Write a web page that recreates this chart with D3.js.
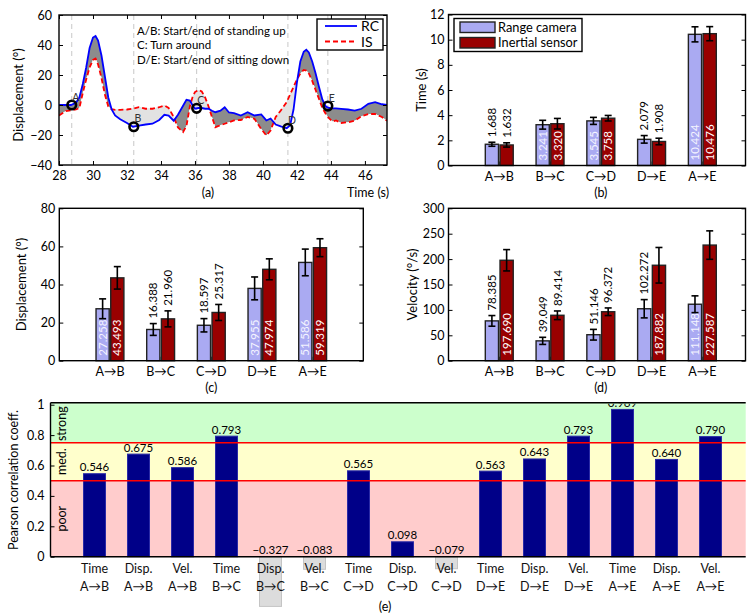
<!DOCTYPE html>
<html>
<head>
<meta charset="utf-8">
<script src="https://cdn.jsdelivr.net/npm/d3@7"></script>
<style>
  body { margin: 0; background: #fff; }
  svg { display: block; font-family: Lato, "Open Sans", sans-serif; }
</style>
</head>
<body>
<svg id="fig" width="747" height="615"></svg>
<script>
// ---------- (a) knee angle traces: range camera (RC) vs inertial sensor (IS) ----------
const traceTime = [28.0, 28.4, 28.7, 29.0, 29.2, 29.4, 29.6, 29.8, 30.0, 30.15, 30.3, 30.5, 30.7, 30.9,
  31.1, 31.3, 31.6, 32.0, 32.35, 32.7, 33.1, 33.5, 33.9, 34.2, 34.45, 34.75, 35.0, 35.3, 35.5, 35.7,
  35.85, 36.0, 36.2, 36.4, 36.6, 36.8, 37.0, 37.2, 37.5, 37.75, 38.0, 38.3, 38.7, 39.1, 39.5, 39.9,
  40.2, 40.45, 40.75, 41.05, 41.4, 41.6, 41.8, 42.0, 42.2, 42.4, 42.55, 42.7, 42.9, 43.1, 43.3, 43.5,
  43.7, 43.9, 44.1, 44.3, 44.6, 45.0, 45.4, 45.8, 46.2, 46.6, 47.0, 47.3];
const traceRC = [0, 0, 0, 1.5, 5, 14, 25, 38, 45, 46, 43, 33, 19, 5,
  -3, -7, -9.5, -12, -14.5, -13.7, -13, -12.5, -10, -6.5, -7, -10.5, -6.5, -0.5, 3.5, 3,
  0, -2.5, -2, -2, -2.5, -2.5, -3.8, -4.8, -3.8, -1.5, -5, -5.4, -7, -4.8, -7, -6.3,
  -10.3, -9, -13, -14.3, -15.5, -13.5, -3, 15, 29, 35.5, 36.8, 35, 29, 21, 12, 3.5,
  -1, -2, -2.2, -2.3, -2.6, -3, -3.7, -2.5, 0.8, 1.9, 0.5, 0];
const traceIS = [-7, -4, -3.5, -3, -2, 8, 17, 25, 30, 31, 27, 18, 7, -1,
  -2.8, -3.2, -3.2, -3, -2.5, -1.5, -2.5, -2.5, -1.5, -0.3, -2, -8, -15, -18, -14, -1,
  5, 8.6, 10, 9, 5, -1, -8, -14.8, -13.5, -12.5, -11.5, -10.3, -10, -8, -9.2, -16,
  -20.3, -17, -8, -3.7, 2, 7, 12, 17, 21, 23.4, 23, 21, 16, 10, 4, -2,
  -6, -9, -11, -10.3, -12, -11.5, -10.5, -7.5, -6, -6, -8, -10.5];
const eventNames = ["A", "B", "C", "D", "E"];
const eventTimes = [28.75, 32.4, 36.1, 41.47, 43.82];
const eventValues = [0, -14.5, -2.2, -15.5, -0.7];
const eventNotes = ["A/B: Start/end of standing up", "C: Turn around", "D/E: Start/end of sitting down"];
const traceTicksX = [28, 30, 32, 34, 36, 38, 40, 42, 44, 46];
const traceTicksY = [-40, -20, 0, 20, 40, 60];

// ---------- (b)-(d) segment statistics ----------
const segments = ["A→B", "B→C", "C→D", "D→E", "A→E"];
const timeRC = [1.688, 3.241, 3.545, 2.079, 10.424];
const timeRCErr = [0.16, 0.35, 0.28, 0.3, 0.6];
const timeIS = [1.632, 3.320, 3.758, 1.908, 10.476];
const timeISErr = [0.17, 0.42, 0.22, 0.26, 0.56];
const dispRC = [27.258, 16.388, 18.597, 37.955, 51.586];
const dispRCErr = [5.2, 3.1, 3.5, 6, 7];
const dispIS = [43.493, 21.960, 25.317, 47.974, 59.319];
const dispISErr = [5.9, 4.2, 4.2, 5.5, 4.7];
const velRC = [78.385, 39.049, 51.146, 102.272, 111.148];
const velRCErr = [10.5, 7, 10.5, 18, 16.5];
const velIS = [197.690, 89.414, 96.372, 187.882, 227.587];
const velISErr = [21, 8.5, 7.5, 35, 28];
const seriesNames = ["Range camera", "Inertial sensor"];

// ---------- (e) Pearson correlation per metric and segment ----------
const corrMetric = ["Time", "Disp.", "Vel.", "Time", "Disp.", "Vel.", "Time", "Disp.", "Vel.",
  "Time", "Disp.", "Vel.", "Time", "Disp.", "Vel."];
const corrSegment = ["A→B", "A→B", "A→B", "B→C", "B→C", "B→C", "C→D", "C→D", "C→D",
  "D→E", "D→E", "D→E", "A→E", "A→E", "A→E"];
const corrValues = [0.546, 0.675, 0.586, 0.793, -0.327, -0.083, 0.565, 0.098, -0.079,
  0.563, 0.643, 0.793, 0.969, 0.640, 0.790];
const bandEdges = [0, 0.5, 0.75, 1];
const bandNames = ["poor", "med.", "strong"];
const corrTicks = [0, 0.2, 0.4, 0.6, 0.8, 1];

const svg = d3.select("#fig");
const defs = svg.append("defs");
const fmt3 = v => (v < 0 ? "−" : "") + Math.abs(v).toFixed(3);

function styleAxis(sel, size) {
  sel.select(".domain").remove();
  sel.selectAll("line").attr("stroke", "#000").attr("stroke-width", 1);
  sel.selectAll("text").attr("font-size", size).attr("fill", "#000")
    .attr("font-family", "Lato, 'Open Sans', sans-serif");
}
function frame(g, l, r, t, b) {
  g.append("rect").attr("x", l).attr("y", t).attr("width", r - l).attr("height", b - t)
    .attr("fill", "none").attr("stroke", "#000").attr("stroke-width", 1.4);
}
function text(g, x, y, s, size, opts = {}) {
  const el = g.append("text").attr("x", x).attr("y", y).text(s)
    .attr("font-size", size).attr("fill", opts.fill || "#000")
    .attr("text-anchor", opts.anchor || "start");
  if (opts.rotate) el.attr("transform", `rotate(-90,${x},${y})`);
  return el;
}

// =============== panel (a) ===============
(function () {
  const P = { l: 59, r: 387, t: 15, b: 165 };
  const g = svg.append("g");
  const x = d3.scaleLinear().domain([28, 47.3]).range([P.l, P.r]);
  const y = d3.scaleLinear().domain([-40, 60]).range([P.b, P.t]);
  const pts = traceTime.map((t, i) => ({ t, rc: traceRC[i], is: traceIS[i] }));

  defs.append("clipPath").attr("id", "clipA").append("rect")
    .attr("x", P.l).attr("y", P.t).attr("width", P.r - P.l).attr("height", P.b - P.t);
  const isArea = d3.area().x(d => x(d.t)).y1(d => y(d.is));
  defs.append("clipPath").attr("id", "aboveIS").append("path").attr("d", isArea.y0(P.t)(pts));
  defs.append("clipPath").attr("id", "belowIS").append("path").attr("d", isArea.y0(P.b)(pts));

  const body = g.append("g").attr("clip-path", "url(#clipA)");
  // event guide lines
  eventTimes.forEach(t => body.append("line").attr("x1", x(t)).attr("x2", x(t))
    .attr("y1", P.t).attr("y2", P.b).attr("stroke", "#c8c8c8").attr("stroke-width", 1)
    .attr("stroke-dasharray", "5,4"));
  const between = d3.area().x(d => x(d.t)).y0(d => y(d.rc)).y1(d => y(d.is));
  body.append("g").attr("clip-path", "url(#aboveIS)").append("path")
    .attr("d", between(pts)).attr("fill", "#8c8c8c");
  body.append("g").attr("clip-path", "url(#belowIS)").append("path")
    .attr("d", between(pts)).attr("fill", "#e2e2e2");
  const lineRC = d3.line().x(d => x(d.t)).y(d => y(d.rc));
  const lineIS = d3.line().x(d => x(d.t)).y(d => y(d.is));
  body.append("path").attr("d", lineIS(pts)).attr("fill", "none").attr("stroke", "#ff0000")
    .attr("stroke-width", 1.8).attr("stroke-dasharray", "5,3");
  body.append("path").attr("d", lineRC(pts)).attr("fill", "none").attr("stroke", "#0000ff")
    .attr("stroke-width", 1.8);
  // event markers
  eventTimes.forEach((t, i) => {
    body.append("circle").attr("cx", x(t)).attr("cy", y(eventValues[i])).attr("r", 4.3)
      .attr("fill", "none").attr("stroke", "#000").attr("stroke-width", 2.6);
    text(body, x(t) + 4, y(eventValues[i]) - 4.5, eventNames[i], 10.5, { fill: "#333", anchor: "middle" });
  });
  eventNotes.forEach((s, i) => text(g, 137, 35 + i * 14.3, s, 11.5));

  // axes with inward ticks
  const axL = g.append("g").attr("transform", `translate(${P.l},0)`)
    .call(d3.axisLeft(y).tickValues(traceTicksY).tickSizeInner(-4).tickSizeOuter(0).tickPadding(7));
  styleAxis(axL, 12.5);
  const axR = g.append("g").attr("transform", `translate(${P.r},0)`)
    .call(d3.axisRight(y).tickValues(traceTicksY).tickSizeInner(-4).tickSizeOuter(0).tickFormat(""));
  styleAxis(axR, 12);
  const axB = g.append("g").attr("transform", `translate(0,${P.b})`)
    .call(d3.axisBottom(x).tickValues(traceTicksX).tickSizeInner(-4).tickSizeOuter(0).tickPadding(6));
  styleAxis(axB, 12.5);
  const axT = g.append("g").attr("transform", `translate(0,${P.t})`)
    .call(d3.axisTop(x).tickValues(traceTicksX).tickSizeInner(-4).tickSizeOuter(0).tickFormat(""));
  styleAxis(axT, 12);
  frame(g, P.l, P.r, P.t, P.b);

  // legend
  g.append("rect").attr("x", 317).attr("y", 19).attr("width", 66).attr("height", 31)
    .attr("fill", "#fff").attr("stroke", "#000").attr("stroke-width", 1.4);
  g.append("line").attr("x1", 325).attr("x2", 357).attr("y1", 26).attr("y2", 26)
    .attr("stroke", "#0000ff").attr("stroke-width", 1.8);
  g.append("line").attr("x1", 325).attr("x2", 357).attr("y1", 41.5).attr("y2", 41.5)
    .attr("stroke", "#ff0000").attr("stroke-width", 1.8).attr("stroke-dasharray", "5,3");
  text(g, 361, 31, "RC", 14);
  text(g, 361, 46.5, "IS", 14);

  text(g, 23, 95, "Displacement (°)", 13, { anchor: "middle", rotate: true });
  text(g, 208, 197, "(a)", 12.5, { anchor: "middle" });
  text(g, 347, 197, "Time (s)", 12.5);
})();

// =============== panels (b)-(d) ===============
function barPanel(o) {
  const g = svg.append("g");
  const x = d3.scaleLinear().domain(o.xDomain).range([o.l, o.r]);
  const y = d3.scaleLinear().domain([0, o.yMax]).range([o.b, o.t]);
  const bw = x(0.26) - x(0);
  const cats = segments.map((s, i) => i + 1);

  const axB = g.append("g").attr("transform", `translate(0,${o.b})`)
    .call(d3.axisBottom(x).tickValues(cats).tickSizeInner(-4).tickSizeOuter(0).tickFormat(""));
  styleAxis(axB, 12);

  const series = [
    { v: o.rc, e: o.rcErr, inside: o.rcIn, off: -0.145, fill: "#aaaaf2", inText: "#f4f4ff" },
    { v: o.is, e: o.isErr, inside: o.isIn, off: 0.145, fill: "#990000", inText: "#ffffff" }
  ];
  series.forEach(s => {
    s.v.forEach((v, i) => {
      const cx = x(cats[i] + s.off);
      g.append("rect").attr("x", cx - bw / 2).attr("y", y(v)).attr("width", bw)
        .attr("height", y(0) - y(v)).attr("fill", s.fill).attr("stroke", "#222").attr("stroke-width", 1.4);
    });
  });
  series.forEach(s => {
    s.v.forEach((v, i) => {
      const cx = x(cats[i] + s.off);
      const e = s.e[i];
      g.append("line").attr("x1", cx).attr("x2", cx).attr("y1", y(v - e)).attr("y2", y(v + e))
        .attr("stroke", "#000").attr("stroke-width", 1.6);
      [v - e, v + e].forEach(w => g.append("line").attr("x1", cx - 3.5).attr("x2", cx + 3.5)
        .attr("y1", y(w)).attr("y2", y(w)).attr("stroke", "#000").attr("stroke-width", 1.6));
      const inside = s.inside[i];
      const ly = inside ? y(0) - 5 : y(v + e) - 5;
      g.append("text").attr("transform", `translate(${cx},${ly}) rotate(-90)`)
        .attr("dy", "0.36em").attr("font-size", 11.5)
        .attr("fill", inside ? s.inText : "#000").text(v.toFixed(3));
    });
  });

  const axL = g.append("g").attr("transform", `translate(${o.l},0)`)
    .call(d3.axisLeft(y).tickValues(o.yTicks).tickSizeInner(-4).tickSizeOuter(0).tickPadding(4));
  styleAxis(axL, 12.5);
  const axR = g.append("g").attr("transform", `translate(${o.r},0)`)
    .call(d3.axisRight(y).tickValues(o.yTicks).tickSizeInner(-4).tickSizeOuter(0).tickFormat(""));
  styleAxis(axR, 12);
  frame(g, o.l, o.r, o.t, o.b);

  segments.forEach((s, i) => text(g, x(cats[i]), o.b + 15.5, s, 12.5, { anchor: "middle" }));
  text(g, o.yLabelX, (o.t + o.b) / 2, o.yLabel, 13, { anchor: "middle", rotate: true });
  text(g, x(3), o.b + 31, o.caption, 12.5, { anchor: "middle" });
  return g;
}

const gb = barPanel({ l: 448.5, r: 745.5, t: 14.5, b: 165.5, xDomain: [0, 5.85], yMax: 12,
  yTicks: [0, 2, 4, 6, 8, 10, 12], rc: timeRC, rcErr: timeRCErr, is: timeIS, isErr: timeISErr,
  rcIn: [0, 1, 1, 0, 1], isIn: [0, 1, 1, 0, 1],
  yLabel: "Time (s)", yLabelX: 426, caption: "(b)" });
// legend for the bar panels
gb.append("rect").attr("x", 454).attr("y", 18.5).attr("width", 128).attr("height", 33)
  .attr("fill", "#fff").attr("stroke", "#000").attr("stroke-width", 1.4);
[["#aaaaf2", 22], ["#990000", 37.5]].forEach(([c, yy], i) => {
  gb.append("rect").attr("x", 460).attr("y", yy).attr("width", 35).attr("height", 10.5)
    .attr("fill", c).attr("stroke", "#222").attr("stroke-width", 1.4);
  text(gb, 498, yy + 9.5, seriesNames[i], 12.8);
});

barPanel({ l: 59.3, r: 363.3, t: 208.3, b: 360.7, xDomain: [0, 6], yMax: 80,
  yTicks: [0, 20, 40, 60, 80], rc: dispRC, rcErr: dispRCErr, is: dispIS, isErr: dispISErr,
  rcIn: [1, 0, 0, 1, 1], isIn: [1, 0, 0, 1, 1],
  yLabel: "Displacement (°)", yLabelX: 26, caption: "(c)" });

barPanel({ l: 448.5, r: 745.5, t: 208.3, b: 360.7, xDomain: [0, 5.85], yMax: 300,
  yTicks: [0, 50, 100, 150, 200, 250, 300], rc: velRC, rcErr: velRCErr, is: velIS, isErr: velISErr,
  rcIn: [0, 0, 0, 0, 1], isIn: [1, 0, 0, 1, 1],
  yLabel: "Velocity (°/s)", yLabelX: 417, caption: "(d)" });

// =============== panel (e) ===============
(function () {
  const P = { l: 50.5, r: 745.7, t: 404.7, b: 556.7 };
  const g = svg.append("g");
  const x = d3.scaleLinear().domain([0, 15.8]).range([P.l, P.r]);
  const y = d3.scaleLinear().domain([0, 1]).range([P.b, P.t]);
  const bw = x(0.5) - x(0);
  const bandFill = ["#ffcccc", "#ffffcc", "#ccffcc"];

  bandNames.forEach((n, i) => {
    g.append("rect").attr("x", P.l).attr("width", P.r - P.l)
      .attr("y", y(bandEdges[i + 1])).attr("height", y(bandEdges[i]) - y(bandEdges[i + 1]))
      .attr("fill", bandFill[i]);
  });
  g.append("rect").attr("x", P.l).attr("width", P.r - P.l).attr("y", P.t - 2)
    .attr("height", 2).attr("fill", bandFill[2]);

  corrValues.forEach((v, i) => {
    const cx = x(i + 1);
    const top = Math.min(y(v), y(0));
    const h = Math.abs(y(v) - y(0));
    g.append("rect").attr("x", cx - bw / 2).attr("y", top).attr("width", bw).attr("height", h)
      .attr("fill", v >= 0 ? "#000088" : "#dcdcdc")
      .attr("stroke", v >= 0 ? "#2a2aa6" : "#c4c4c4").attr("stroke-width", 1);
  });

  bandEdges.slice(1, 3).forEach(e => g.append("line").attr("x1", P.l).attr("x2", P.r)
    .attr("y1", y(e)).attr("y2", y(e)).attr("stroke", "#ff0000").attr("stroke-width", 1.6));

  defs.append("clipPath").attr("id", "clipE").append("rect")
    .attr("x", 0).attr("y", P.t - 1).attr("width", 747).attr("height", 615);
  const lbl = g.append("g").attr("clip-path", "url(#clipE)");
  corrValues.forEach((v, i) => {
    const ly = v >= 0 ? y(v) - 2.5 : y(0) - 2.5;
    text(lbl, x(i + 1), ly, fmt3(v), 11.5, { anchor: "middle" });
  });

  corrMetric.forEach((m, i) => {
    text(g, x(i + 1), 573, m, 12.5, { anchor: "middle", fill: "#111" });
    text(g, x(i + 1), 590.5, corrSegment[i], 12.5, { anchor: "middle", fill: "#111" });
  });

  bandNames.forEach((n, i) => {
    const yc = y((bandEdges[i] + bandEdges[i + 1]) / 2);
    g.append("text").attr("transform", `translate(61,${yc}) rotate(-90)`)
      .attr("text-anchor", "middle").attr("dy", "0.36em").attr("font-size", 12.5).text(n);
  });

  const axL = g.append("g").attr("transform", `translate(${P.l},0)`)
    .call(d3.axisLeft(y).tickValues(corrTicks).tickSizeInner(-4).tickSizeOuter(0).tickPadding(6)
      .tickFormat(d => (d === 0 || d === 1) ? String(d) : d.toFixed(1)));
  styleAxis(axL, 12.5);
  g.append("line").attr("x1", P.l).attr("x2", P.l).attr("y1", P.t - 2).attr("y2", P.b)
    .attr("stroke", "#000").attr("stroke-width", 1.4);
  g.append("line").attr("x1", P.l).attr("x2", P.r).attr("y1", P.b).attr("y2", P.b)
    .attr("stroke", "#000").attr("stroke-width", 1.4);
  g.append("line").attr("x1", P.l).attr("x2", P.r).attr("y1", P.t - 2).attr("y2", P.t - 2)
    .attr("stroke", "#000").attr("stroke-width", 1.4);

  text(g, 18, 480, "Pearson correlation coeff.", 12.5, { anchor: "middle", rotate: true });
  text(g, 385, 611, "(e)", 12.5, { anchor: "middle" });
})();
</script>
</body>
</html>
